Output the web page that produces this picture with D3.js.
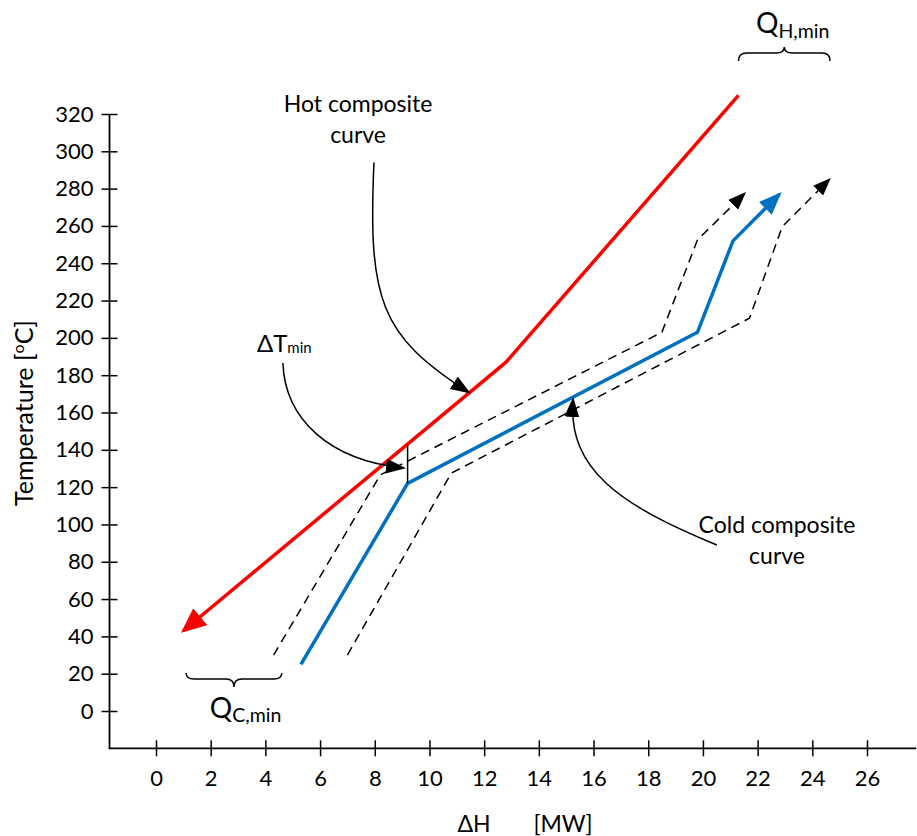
<!DOCTYPE html>
<html>
<head>
<meta charset="utf-8">
<script src="https://cdn.jsdelivr.net/npm/d3@7"></script>
<style>
  html, body { margin: 0; padding: 0; background: #fff; }
  svg { display: block; font-family: Lato, "Open Sans", sans-serif; }
  text { fill: #000; }
</style>
</head>
<body>
<svg id="chart" width="917" height="836"></svg>
<script>
// Axis ticks
const tempTicks = [0, 20, 40, 60, 80, 100, 120, 140, 160, 180, 200, 220, 240, 260, 280, 300, 320];
const dutyTicks = [0, 2, 4, 6, 8, 10, 12, 14, 16, 18, 20, 22, 24, 26];

// Composite curves as [ΔH (MW), T (°C)], in drawing order
const hotCurve = [[21.3, 330], [12.8, 187], [1.0, 43]];
const coldCurve = [[5.3, 25], [9.2, 122], [19.8, 203], [21.1, 252], [22.8, 277]];
const coldShiftLeft = [[4.3, 30], [8.2, 126.5], [18.5, 203], [19.8, 252.5], [21.5, 277]];
const coldShiftRight = [[7.0, 30], [10.8, 127.5], [21.7, 210.5], [22.9, 259.6], [24.6, 284.6]];

// Pinch: ΔTmin measured at the cold-curve kink
const pinchDuty = 9.2;
const pinchColdT = 122;

// Leader curves (start, control 1, control 2, arrow tip) in data units
const hotLeader = [[7.97, 294], [7.75, 220], [8.19, 201.5], [11.41, 171]];
const dtLeader = [[4.64, 186.5], [4.72, 156], [6.36, 134.5], [9.03, 130.3]];
const coldLeader = [[20.51, 89], [16.97, 110.4], [15.06, 129.2], [15.25, 166.7]];

// Brace extents [ΔH from, ΔH to, T]
const qHotBrace = [21.3, 24.65, 352.7];
const qColdBrace = [1.1, 4.6, 17.2];

const svg = d3.select("#chart");
svg.append("rect").attr("width", 917).attr("height", 836).attr("fill", "#fff");

const x = d3.scaleLinear().domain([0, 26]).range([156, 867]);
const y = d3.scaleLinear().domain([0, 320]).range([711, 114]);
const xLo = -1.7, xHi = 27.8, yLo = -20, yHi = 320;

// Arrowhead markers
const defs = svg.append("defs");
function marker(id, len, wid, color) {
  defs.append("marker")
    .attr("id", id)
    .attr("markerUnits", "userSpaceOnUse")
    .attr("viewBox", `0 0 ${len} ${wid}`)
    .attr("refX", len - 3)
    .attr("refY", wid / 2)
    .attr("markerWidth", len)
    .attr("markerHeight", wid)
    .attr("orient", "auto")
    .append("path")
    .attr("d", `M0,0L${len},${wid / 2}L0,${wid}Z`)
    .attr("fill", color);
}
marker("headRed", 25, 22, "#FF0000");
marker("headBlue", 23, 18, "#0070C0");
marker("headDash", 18, 14, "#000");
marker("headNote", 20, 15, "#000");

// Axes frame
svg.append("path")
  .attr("d", `M${x(xLo)},${y(yHi)}V${y(yLo)}H${x(xHi)}`)
  .attr("fill", "none").attr("stroke", "#000").attr("stroke-width", 1.8);

const gx = svg.append("g")
  .attr("transform", `translate(0,${y(yLo)})`)
  .call(d3.axisBottom(x).tickValues(dutyTicks).tickSize(8).tickPadding(14).tickSizeOuter(0));
gx.select(".domain").remove();
gx.attr("font-family", null).attr("font-size", null);
gx.selectAll(".tick line").attr("y1", -8).attr("y2", 8).attr("stroke", "#000").attr("stroke-width", 1.5);
gx.selectAll(".tick text").attr("font-size", 22).attr("fill", "#000");

const gy = svg.append("g")
  .attr("transform", `translate(${x(xLo)},0)`)
  .call(d3.axisLeft(y).tickValues(tempTicks).tickSize(8).tickPadding(8).tickSizeOuter(0));
gy.select(".domain").remove();
gy.attr("font-family", null).attr("font-size", null);
gy.selectAll(".tick line").attr("x1", 8).attr("x2", -8).attr("stroke", "#000").attr("stroke-width", 1.5);
gy.selectAll(".tick text").attr("font-size", 22).attr("fill", "#000");

// Axis titles
const yTitle = svg.append("text")
  .attr("transform", "translate(33,413) rotate(-90)")
  .attr("text-anchor", "middle").attr("font-size", 25);
yTitle.append("tspan").text("Temperature [");
yTitle.append("tspan").attr("font-size", 16).attr("dy", -9).text("o");
yTitle.append("tspan").attr("dy", 9).text("C]");

const xTitle = svg.append("g").attr("font-size", 23);
xTitle.append("text").attr("x", 474).attr("y", 832).attr("text-anchor", "middle").text("ΔH");
xTitle.append("text").attr("x", 563).attr("y", 832).attr("text-anchor", "middle").text("[MW]");

// Composite curves
const line = d3.line().x(d => x(d[0])).y(d => y(d[1]));

svg.append("path").datum(coldShiftLeft)
  .attr("d", line).attr("fill", "none").attr("stroke", "#000")
  .attr("stroke-width", 1.5).attr("stroke-dasharray", "9,6")
  .attr("marker-end", "url(#headDash)");
svg.append("path").datum(coldShiftRight)
  .attr("d", line).attr("fill", "none").attr("stroke", "#000")
  .attr("stroke-width", 1.5).attr("stroke-dasharray", "9,6")
  .attr("marker-end", "url(#headDash)");

svg.append("path").datum(coldCurve)
  .attr("d", line).attr("fill", "none").attr("stroke", "#0070C0")
  .attr("stroke-width", 3.5).attr("stroke-linejoin", "miter")
  .attr("marker-end", "url(#headBlue)");

svg.append("path").datum(hotCurve)
  .attr("d", line).attr("fill", "none").attr("stroke", "#FF0000")
  .attr("stroke-width", 3.5)
  .attr("marker-end", "url(#headRed)");

// ΔTmin marker between hot curve and cold-curve kink
const hotAt = d => {
  const pts = hotCurve.slice().sort((a, b) => a[0] - b[0]);
  for (let i = 0; i < pts.length - 1; i++) {
    const [x0, t0] = pts[i], [x1, t1] = pts[i + 1];
    if (d >= x0 && d <= x1) return t0 + (t1 - t0) * (d - x0) / (x1 - x0);
  }
  return null;
};
svg.append("line")
  .attr("x1", x(pinchDuty)).attr("x2", x(pinchDuty))
  .attr("y1", y(hotAt(pinchDuty))).attr("y2", y(pinchColdT))
  .attr("stroke", "#000").attr("stroke-width", 1.5);

// Leader curves
function leader(pts) {
  const p = d3.path();
  const s = pts.map(d => [x(d[0]), y(d[1])]);
  p.moveTo(s[0][0], s[0][1]);
  p.bezierCurveTo(s[1][0], s[1][1], s[2][0], s[2][1], s[3][0], s[3][1]);
  svg.append("path").attr("d", p.toString())
    .attr("fill", "none").attr("stroke", "#000").attr("stroke-width", 1.5)
    .attr("marker-end", "url(#headNote)");
}
leader(hotLeader);
leader(dtLeader);
leader(coldLeader);

// Annotation labels
function twoLine(cx, t, lines) {
  lines.forEach((s, i) => {
    svg.append("text")
      .attr("x", x(cx)).attr("y", y(t) + i * 31)
      .attr("text-anchor", "middle").attr("font-size", 23)
      .text(s);
  });
}
twoLine(7.39, 321, ["Hot composite", "curve"]);
twoLine(22.71, 95.4, ["Cold composite", "curve"]);

const dt = svg.append("text").attr("x", x(3.69)).attr("y", y(192.4)).attr("font-size", 24);
dt.append("tspan").text("ΔT");
dt.append("tspan").attr("font-size", 15).attr("dy", 1).text("min");

// Braces
function brace([d0, d1, t], endOff, cuspOff) {
  const x0 = x(d0), x1 = x(d1), yy = y(t), xm = (x0 + x1) / 2, r = 8;
  const p = d3.path();
  p.moveTo(x0, yy + endOff);
  p.quadraticCurveTo(x0, yy, x0 + r, yy);
  p.lineTo(xm - r, yy);
  p.quadraticCurveTo(xm, yy, xm, yy + cuspOff);
  p.quadraticCurveTo(xm, yy, xm + r, yy);
  p.lineTo(x1 - r, yy);
  p.quadraticCurveTo(x1, yy, x1, yy + endOff);
  svg.append("path").attr("d", p.toString())
    .attr("fill", "none").attr("stroke", "#000").attr("stroke-width", 1.5);
}
brace(qHotBrace, 8, -6);
brace(qColdBrace, -6, 8);

function qLabel(d, t, sub, shift) {
  const q = svg.append("text").attr("x", x(d)).attr("y", y(t)).attr("font-size", 28);
  q.append("tspan").text("Q");
  q.append("tspan").attr("font-size", 19.5).attr("dy", shift).text(sub);
}
qLabel(21.94, 363.4, "H,min", 5);
qLabel(1.97, -3.75, "C,min", 4);
</script>
</body>
</html>
